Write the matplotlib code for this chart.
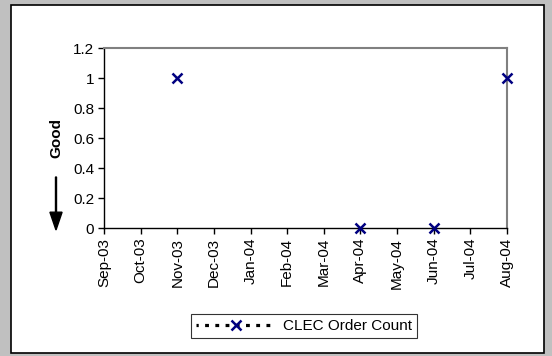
import numpy as np
import matplotlib.pyplot as plt
from matplotlib.patches import Rectangle, FancyArrow
from matplotlib.lines import Line2D

plt.rcParams['font.family'] = ['Liberation Sans', 'DejaVu Sans']

# Data
months = ['Sep-03', 'Oct-03', 'Nov-03', 'Dec-03', 'Jan-04', 'Feb-04',
          'Mar-04', 'Apr-04', 'May-04', 'Jun-04', 'Jul-04', 'Aug-04']
order_count = [np.nan, np.nan, 1, np.nan, np.nan, np.nan,
               np.nan, 0, np.nan, 0, np.nan, 1]
y_ticks = [0, 0.2, 0.4, 0.6, 0.8, 1, 1.2]
y_tick_labels = ['0', '0.2', '0.4', '0.6', '0.8', '1', '1.2']

W, H = 552, 356
fig = plt.figure(figsize=(W / 100, H / 100), dpi=100)
fig.patch.set_facecolor('#C0C0C0')

# white chart area with black frame
fig.patches.append(Rectangle((11 / W, 1 - 353 / H), (544 - 11) / W, (353 - 5) / H,
                             transform=fig.transFigure, facecolor='white',
                             edgecolor='black', linewidth=1.2, zorder=-5))

ax = fig.add_axes([104 / W, 1 - 228 / H, (507 - 104) / W, (228 - 48) / H])
ax.set_facecolor('white')
x = np.arange(len(months))
ax.plot(x, order_count, linestyle=(0, (2, 2)), color='black', linewidth=1.5,
        marker='x', markersize=7.5, markeredgewidth=1.8, markeredgecolor='#000080',
        clip_on=False, zorder=5)

ax.set_xlim(0, len(months) - 1)
ax.set_ylim(0, 1.2)
ax.set_xticks(x)
ax.set_xticklabels(months, rotation=90, fontsize=11)
ax.set_yticks(y_ticks)
ax.set_yticklabels(y_tick_labels, fontsize=11)
ax.tick_params(axis='both', direction='out', length=4, width=1, pad=3)

for s in ['left', 'bottom']:
    ax.spines[s].set_color('black')
    ax.spines[s].set_linewidth(1)
for s in ['top', 'right']:
    ax.spines[s].set_color('#808080')
    ax.spines[s].set_linewidth(1.5)

# "Good" label with arrow
fig.text(56 / W, 1 - 138 / H, 'Good', rotation=90, fontsize=11, fontweight='bold',
         ha='center', va='center')
fig.patches.append(FancyArrow(
    56 / W, 1 - 177 / H, 0, -(53 / H), width=0.0018, head_width=0.022,
    head_length=0.05, length_includes_head=True, transform=fig.transFigure,
    color='black'))

handle = Line2D([], [], linestyle=(0.5, (1.2, 2.0)), color='black', linewidth=2.3,
                marker='x', markersize=7.5, markeredgewidth=1.8, markeredgecolor='#000080')
leg = fig.legend([handle], ['CLEC Order Count'], loc='center',
                 bbox_to_anchor=(304 / W, 1 - 326 / H), fontsize=11,
                 frameon=True, fancybox=False, edgecolor='black',
                 handlelength=5.2, handletextpad=0.5, borderpad=0.3)
leg.get_frame().set_linewidth(0.8)

fig.savefig('out.png', dpi=100, facecolor=fig.get_facecolor())
